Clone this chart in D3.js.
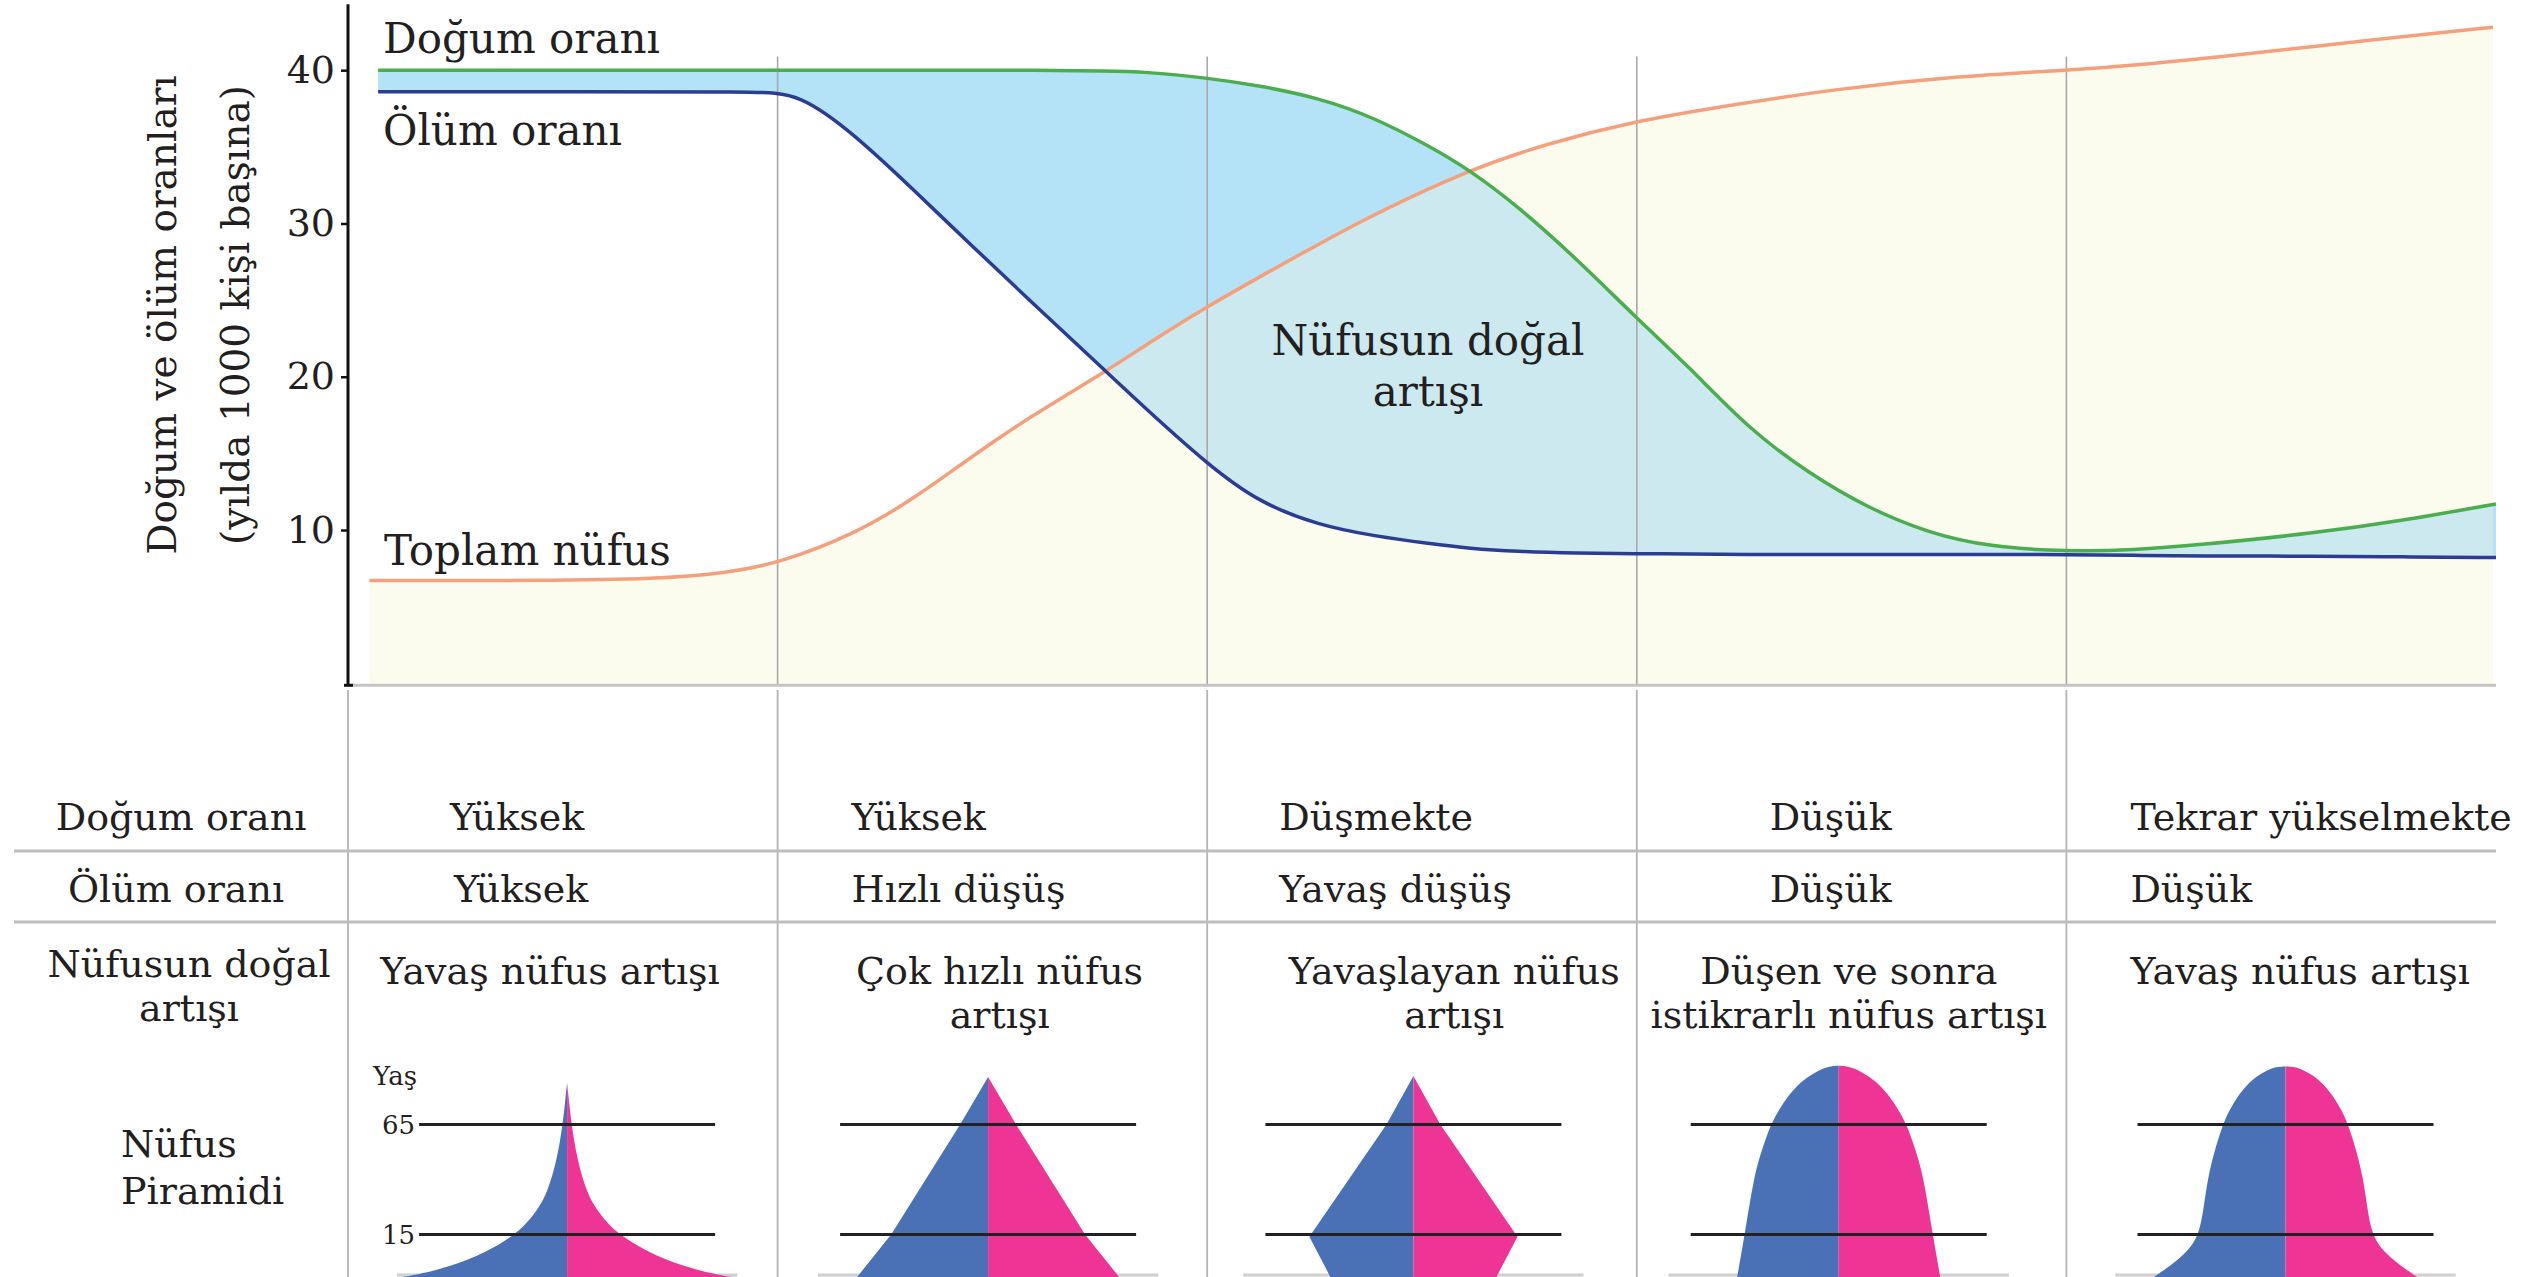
<!DOCTYPE html>
<html><head><meta charset="utf-8">
<script src="https://cdn.jsdelivr.net/npm/d3@7"></script>
<style>html,body{margin:0;padding:0;background:#fff;overflow:hidden}svg{display:block}</style>
</head><body>
<svg id="c" width="2533" height="1277"></svg>
<script>
// ---------- DATA ----------
const stageBounds = [0, 1, 2, 3, 4, 5];
const yTicks = [10, 20, 30, 40];

// shared stage positions for birth and death rates
const rateX     = [0.07, 0.5, 0.95, 1.05, 1.18, 1.32, 1.45, 1.59, 1.77, 1.85, 2.0, 2.12, 2.26, 2.39, 2.52, 2.61, 2.72, 2.86, 3.0, 3.12, 3.26, 3.40, 3.54, 3.68, 3.82, 4.0, 4.16, 4.30, 4.58, 4.78, 5.0];
const birthRate = [40, 40, 40, 40, 40, 40, 40, 40, 39.95, 39.9, 39.5, 39.0, 38.2, 36.9, 35.0, 33.5, 31.2, 27.7, 23.8, 20.7, 16.6, 13.7, 11.4, 9.8, 8.9, 8.6, 8.7, 9.0, 9.8, 10.6, 11.7];
const deathRate = [38.6, 38.6, 38.6, 38.5, 35.8, 32.1, 28.6, 24.9, 20.2, 18.1, 14.3, 11.8, 10.3, 9.6, 9.1, 8.8, 8.6, 8.5, 8.45, 8.45, 8.4, 8.4, 8.4, 8.4, 8.4, 8.4, 8.35, 8.3, 8.3, 8.25, 8.2];

const popX = [0.05, 0.45, 0.72, 0.88, 1.0, 1.185, 1.32, 1.452, 1.588, 1.767, 1.853, 1.995, 2.121, 2.256, 2.388, 2.609, 2.789, 3.0, 3.191, 3.468, 3.745, 4.0, 4.16, 4.437, 4.716, 4.993];
const popV = [6.7, 6.7, 6.8, 7.2, 7.8, 9.8, 12.1, 14.8, 17.4, 20.4, 22.0, 24.5, 26.5, 28.6, 30.6, 33.5, 35.2, 36.7, 37.6, 38.8, 39.6, 40.0, 40.3, 41.1, 42.0, 42.8];

const rowLabels = [["Doğum oranı"], ["Ölüm oranı"], ["Nüfusun doğal", "artışı"], ["Nüfus", "Piramidi"]];
const birthDesc = ["Yüksek", "Yüksek", "Düşmekte", "Düşük", "Tekrar yükselmekte"];
const deathDesc = ["Yüksek", "Hızlı düşüş", "Yavaş düşüş", "Düşük", "Düşük"];
const growthDesc = [["Yavaş nüfus artışı"], ["Çok hızlı nüfus", "artışı"], ["Yavaşlayan nüfus", "artışı"], ["Düşen ve sonra", "istikrarlı nüfus artışı"], ["Yavaş nüfus artışı"]];

// population pyramids: age vs half-width (share units)
const pyrAges = [
  [-4.3, -3.4, 0.4, 6.5, 15.5, 26.1, 33.7, 48.9, 65, 75, 83.9],
  [-4.3, 15, 65, 86.6],
  [-4.3, 14, 65, 87],
  [-4.3, 15, 40.9, 53.4, 65, 71.6, 78.4, 84.3, 87.5, 90.7, 91.5, 91.7],
  [-4.3, -0.7, 6, 15, 40.9, 65, 71.6, 78.4, 84.3, 87.5, 90.7, 91.2, 91.4]
];
const pyrShares = [
  [11.2, 10.2, 7.9, 5.6, 3.3, 2.0, 1.35, 0.68, 0.3, 0.14, 0],
  [8.85, 6.55, 1.89, 0],
  [5.61, 7.03, 1.82, 0],
  [6.86, 6.35, 5.74, 5.2, 4.59, 4.05, 3.38, 2.57, 1.89, 1.01, 0.5, 0],
  [8.9, 8.1, 6.8, 5.68, 5.34, 4.26, 3.78, 3.18, 2.43, 1.82, 0.95, 0.5, 0]
];
const pyrCenter = [0.51, 1.49, 2.48, 3.47, 4.51];
const pyrSmooth = [true, false, false, true, true];
const ageMarks = [15, 65];

// ---------- STYLE / LAYOUT ----------
const TXT = '#231f20';
const FONT = "'DejaVu Serif', 'Liberation Serif', serif";
const C_BIRTH = '#4aad4e', C_DEATH = '#2b3d92', C_POP = '#f5a07c';
const C_BEIGE = '#fcfcee', C_BAND = '#b4e3f8', C_BAND2 = '#cce9ef';
const C_MALE = '#4a71b6', C_FEMALE = '#ee3494';

const svg = d3.select('#c');
const x = d3.scaleLinear().domain([0, 5]).range([348, 2496]);
const y = d3.scaleLinear().domain([0, 40]).range([683.3, 70.2]);
const smooth = d3.curveBasis;

const birthPts = rateX.map((s, i) => ({s, b: birthRate[i], d: deathRate[i]}));
const popPts = popX.map((s, i) => ({s, v: popV[i]}));

const defs = svg.append('defs');
const popArea = d3.area().curve(smooth).x(d => x(d.s)).y0(y(0)).y1(d => y(d.v));
defs.append('clipPath').attr('id', 'underPop').append('path').attr('d', popArea(popPts));

svg.append('path').attr('d', popArea(popPts)).attr('fill', C_BEIGE);

const band = d3.area().curve(smooth).x(d => x(d.s)).y0(d => y(d.d)).y1(d => y(d.b));
svg.append('path').attr('d', band(birthPts)).attr('fill', C_BAND);
svg.append('path').attr('d', band(birthPts)).attr('fill', C_BAND2).attr('clip-path', 'url(#underPop)');

svg.append('g').selectAll('line').data(stageBounds.slice(1, 5)).join('line')
  .attr('x1', d => x(d)).attr('x2', d => x(d))
  .attr('y1', y(40.9)).attr('y2', y(0) + 2)
  .attr('stroke', '#a9a9a9').attr('stroke-width', 1.6);

svg.append('line').attr('x1', x(0)).attr('x2', x(5)).attr('y1', y(0) + 2).attr('y2', y(0) + 2)
  .attr('stroke', '#c4c4c4').attr('stroke-width', 3);

const lineGen = (acc) => d3.line().curve(smooth).x(d => x(d.s)).y(acc);
svg.append('path').attr('d', lineGen(d => y(d.v))(popPts)).attr('fill', 'none').attr('stroke', C_POP).attr('stroke-width', 3.5);
svg.append('path').attr('d', lineGen(d => y(d.b))(birthPts)).attr('fill', 'none').attr('stroke', C_BIRTH).attr('stroke-width', 3.5);
svg.append('path').attr('d', lineGen(d => y(d.d))(birthPts)).attr('fill', 'none').attr('stroke', C_DEATH).attr('stroke-width', 3.5);

const ax = svg.append('g').attr('transform', `translate(${x(0)},0)`)
  .call(d3.axisLeft(y).tickValues(yTicks).tickSize(7).tickPadding(6).tickSizeOuter(0));
ax.select('.domain').remove();
ax.selectAll('.tick line').attr('stroke', '#111').attr('stroke-width', 2.5);
ax.selectAll('.tick text').attr('font-family', FONT).attr('font-size', 38).attr('fill', TXT);
svg.append('line').attr('x1', x(0)).attr('x2', x(0)).attr('y1', y(44.3)).attr('y2', y(0) + 2)
  .attr('stroke', '#111').attr('stroke-width', 3);
svg.append('line').attr('x1', x(0) - 4).attr('x2', x(0) + 5).attr('y1', y(0) + 2).attr('y2', y(0) + 2)
  .attr('stroke', '#111').attr('stroke-width', 3);

const yt = svg.append('g').attr('font-family', FONT).attr('font-size', 39).attr('fill', TXT).attr('text-anchor', 'middle');
yt.append('text').attr('transform', 'translate(176,315) rotate(-90)').text('Doğum ve ölüm oranları');
yt.append('text').attr('transform', 'translate(249,315) rotate(-90)').text('(yılda 1000 kişi başına)');

const cl = svg.append('g').attr('font-family', FONT).attr('font-size', 42).attr('fill', TXT);
cl.append('text').attr('x', 383).attr('y', 53).text('Doğum oranı');
cl.append('text').attr('x', 383).attr('y', 145).text('Ölüm oranı');
cl.append('text').attr('x', 384).attr('y', 565).text('Toplam nüfus');
cl.append('text').attr('x', 1428).attr('y', 355).attr('text-anchor', 'middle').text('Nüfusun doğal');
cl.append('text').attr('x', 1428).attr('y', 406).attr('text-anchor', 'middle').text('artışı');

// ---------- TABLE ----------
const tg = svg.append('g');
tg.selectAll('line.v').data(stageBounds.slice(0, 5)).join('line').attr('class', 'v')
  .attr('x1', d => x(d)).attr('x2', d => x(d)).attr('y1', 690).attr('y2', 1277)
  .attr('stroke', '#b3b3b3').attr('stroke-width', 1.8);
tg.selectAll('line.h').data([851, 922]).join('line').attr('class', 'h')
  .attr('x1', 14).attr('x2', x(5)).attr('y1', d => d).attr('y2', d => d)
  .attr('stroke', '#bdbdbd').attr('stroke-width', 3);

const tt = svg.append('g').attr('font-family', FONT).attr('font-size', 38).attr('fill', TXT);
const rowLabelPos = [[181, 830, 'middle'], [176, 902, 'middle'], [189, 977, 'middle'], [121, 1157, 'start']];
rowLabels.forEach((lines, r) => {
  const [px, py, anc] = rowLabelPos[r];
  lines.forEach((t, k) => tt.append('text').attr('x', px).attr('y', py + k * (r === 3 ? 47 : 44)).attr('text-anchor', anc).text(t));
});
const row1Lay = [['start', 102], ['start', 74], ['start', 72], ['middle', 194], ['start', 64]];
const row2Lay = [['start', 106], ['start', 74], ['start', 72], ['middle', 194], ['start', 64]];
const row3Lay = [['middle', 202], ['middle', 222], ['middle', 247], ['middle', 212], ['start', 64]];
birthDesc.forEach((t, i) => tt.append('text').attr('x', x(i) + row1Lay[i][1]).attr('y', 830).attr('text-anchor', row1Lay[i][0]).text(t));
deathDesc.forEach((t, i) => tt.append('text').attr('x', x(i) + row2Lay[i][1]).attr('y', 902).attr('text-anchor', row2Lay[i][0]).text(t));
growthDesc.forEach((lines, i) => lines.forEach((t, k) =>
  tt.append('text').attr('x', x(i) + row3Lay[i][1]).attr('y', 984 + k * 44).attr('text-anchor', row3Lay[i][0]).text(t)));

// ---------- PYRAMIDS ----------
const ageY = d3.scaleLinear().domain([15, 65]).range([1234.5, 1124.5]);
const wS = d3.scaleLinear().domain([0, 10]).range([0, 148]);
const pg = svg.append('g');
pyrAges.forEach((ages, i) => {
  const cx = x(pyrCenter[i]);
  const pts = ages.map((a, k) => [a, pyrShares[i][k]]).sort((a, b) => b[0] - a[0]);
  const curve = pyrSmooth[i] ? d3.curveBasis : d3.curveLinear;
  const half = (sign) => d3.area().curve(curve).y(d => ageY(d[0])).x0(cx).x1(d => cx + sign * wS(d[1]));
  pg.append('line').attr('x1', cx - wS(11.5)).attr('x2', cx + wS(11.5)).attr('y1', ageY(-3.4)).attr('y2', ageY(-3.4))
    .attr('stroke', '#cfcfcf').attr('stroke-width', 3);
  pg.append('path').attr('d', half(-1)(pts)).attr('fill', C_MALE);
  pg.append('path').attr('d', half(1)(pts)).attr('fill', C_FEMALE);
  ageMarks.forEach(a => pg.append('line').attr('x1', cx - wS(10)).attr('x2', cx + wS(10))
    .attr('y1', ageY(a)).attr('y2', ageY(a)).attr('stroke', '#222').attr('stroke-width', 3));
});
const al = svg.append('g').attr('font-family', FONT).attr('font-size', 26).attr('fill', TXT);
al.append('text').attr('x', 373).attr('y', 1085).text('Yaş');
ageMarks.forEach(a => al.append('text').attr('x', 415).attr('y', ageY(a) + 9).attr('text-anchor', 'end').text(a));
</script>
</body></html>
